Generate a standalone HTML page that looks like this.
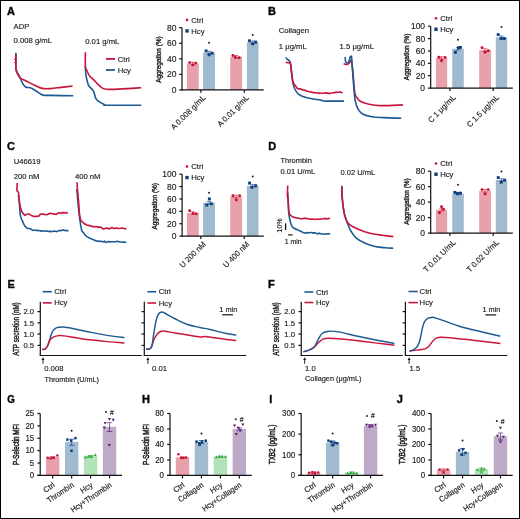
<!DOCTYPE html>
<html><head><meta charset="utf-8"><style>
html,body{margin:0;padding:0;background:#fff;}
svg{display:block;font-family:"Liberation Sans", sans-serif;will-change:transform;} text{stroke:#1a1a1a;stroke-width:0.15px;}
</style></head><body>
<svg width="520" height="519" viewBox="0 0 520 519">

<rect x="0.5" y="0.5" width="519" height="518" fill="none" stroke="#000" stroke-width="1"/>
<text font-size="11" font-weight="bold" transform="translate(7.0 14.8) scale(1 0.93)" style="stroke-width:0.45px" fill="#000">A</text>
<text font-size="7.7" transform="translate(13.6 28.6) scale(1 1.03)" fill="#1c1c1c">ADP</text>
<text font-size="7.7" transform="translate(13.6 43.3) scale(1 1.03)" fill="#1c1c1c">0.008 g/mL</text>
<text font-size="7.7" transform="translate(85.2 43.6) scale(1 1.03)" fill="#1c1c1c">0.01 g/mL</text>
<path d="M15.90,52.80 C15.90,54.00 15.87,57.22 15.90,60.00 C15.93,62.78 15.52,66.78 16.10,69.50 C16.68,72.22 18.28,73.93 19.40,76.30 C20.52,78.67 21.78,81.92 22.80,83.70 C23.82,85.48 24.27,86.33 25.50,87.00 C26.73,87.67 28.97,87.37 30.20,87.70 C31.43,88.03 31.55,88.22 32.90,89.00 C34.25,89.78 36.62,91.38 38.30,92.40 C39.98,93.42 40.98,94.60 43.00,95.10 C45.02,95.60 45.35,95.28 50.40,95.40 C55.45,95.52 69.48,95.73 73.30,95.80" fill="none" stroke="#1D5A93" stroke-width="1.6" stroke-linejoin="round" stroke-linecap="butt"/>
<path d="M15.90,54.10 C15.90,55.08 15.87,57.32 15.90,60.00 C15.93,62.68 15.73,67.72 16.10,70.20 C16.47,72.68 17.32,73.55 18.10,74.90 C18.88,76.25 19.45,77.28 20.80,78.30 C22.15,79.32 23.97,79.88 26.20,81.00 C28.43,82.12 31.52,83.77 34.20,85.00 C36.88,86.23 39.60,87.80 42.30,88.40 C45.00,89.00 47.27,88.77 50.40,88.60 C53.53,88.43 57.40,87.83 61.10,87.40 C64.80,86.97 70.68,86.23 72.60,86.00" fill="none" stroke="#C9153C" stroke-width="1.6" stroke-linejoin="round" stroke-linecap="butt"/>
<line x1="14.2" y1="59.4" x2="16.0" y2="59.4" stroke="#C9153C" stroke-width="1.2"/>
<line x1="14.2" y1="62.3" x2="16.0" y2="62.3" stroke="#C9153C" stroke-width="1.2"/>
<path d="M85.40,66.00 C85.43,67.00 85.38,69.83 85.60,72.00 C85.82,74.17 86.18,76.72 86.70,79.00 C87.22,81.28 87.57,83.68 88.70,85.70 C89.83,87.72 92.37,89.08 93.50,91.10 C94.63,93.12 94.72,96.12 95.50,97.80 C96.28,99.48 96.75,100.08 98.20,101.20 C99.65,102.32 102.75,103.83 104.20,104.50 C105.65,105.17 100.73,105.08 106.90,105.20 C113.07,105.32 135.48,105.20 141.20,105.20" fill="none" stroke="#1D5A93" stroke-width="1.6" stroke-linejoin="round" stroke-linecap="butt"/>
<path d="M85.40,52.30 C85.40,54.72 85.18,63.82 85.40,66.80 C85.62,69.78 86.03,68.73 86.70,70.20 C87.37,71.67 88.27,74.03 89.40,75.60 C90.53,77.17 91.70,77.80 93.50,79.60 C95.30,81.40 98.08,84.78 100.20,86.40 C102.32,88.02 101.72,88.93 106.20,89.30 C110.68,89.67 121.27,88.87 127.10,88.60 C132.93,88.33 138.85,87.85 141.20,87.70" fill="none" stroke="#C9153C" stroke-width="1.6" stroke-linejoin="round" stroke-linecap="butt"/>
<line x1="106" y1="58.9" x2="115" y2="58.9" stroke="#C9153C" stroke-width="1.8"/>
<line x1="106" y1="70.0" x2="115" y2="70.0" stroke="#1D5A93" stroke-width="1.8"/>
<text font-size="7.7" transform="translate(117.7 61.6) scale(1 1.03)" fill="#1c1c1c">Ctrl</text>
<text font-size="7.7" transform="translate(117.7 73.0) scale(1 1.03)" fill="#1c1c1c">Hcy</text>
<rect x="186.90" y="63.60" width="11.90" height="26.30" fill="#E8A1AC"/>
<line x1="192.85000000000002" y1="62.300000000000004" x2="192.85000000000002" y2="64.9" stroke="#C8102E" stroke-width="0.6"/>
<line x1="190.65000000000003" y1="62.300000000000004" x2="195.05" y2="62.300000000000004" stroke="#C8102E" stroke-width="0.6"/>
<line x1="190.65000000000003" y1="64.9" x2="195.05" y2="64.9" stroke="#C8102E" stroke-width="0.6"/>
<circle cx="189.65" cy="62.6" r="1.45" fill="#C8102E"/>
<circle cx="192.85" cy="64.9" r="1.45" fill="#C8102E"/>
<circle cx="195.85" cy="63.1" r="1.45" fill="#C8102E"/>
<rect x="203.10" y="52.60" width="11.90" height="37.30" fill="#A0BAD0"/>
<line x1="209.05" y1="51.300000000000004" x2="209.05" y2="53.9" stroke="#0E3F7F" stroke-width="0.6"/>
<line x1="206.85000000000002" y1="51.300000000000004" x2="211.25" y2="51.300000000000004" stroke="#0E3F7F" stroke-width="0.6"/>
<line x1="206.85000000000002" y1="53.9" x2="211.25" y2="53.9" stroke="#0E3F7F" stroke-width="0.6"/>
<rect x="204.60" y="49.45" width="2.9" height="2.9" fill="#0E3F7F"/>
<rect x="207.60" y="53.35" width="2.9" height="2.9" fill="#0E3F7F"/>
<rect x="210.60" y="51.65" width="2.9" height="2.9" fill="#0E3F7F"/>
<circle cx="209.05" cy="42.8" r="1.0" fill="#222"/>
<rect x="230.20" y="56.70" width="11.90" height="33.20" fill="#E8A1AC"/>
<line x1="236.14999999999998" y1="55.400000000000006" x2="236.14999999999998" y2="58.0" stroke="#C8102E" stroke-width="0.6"/>
<line x1="233.95" y1="55.400000000000006" x2="238.34999999999997" y2="55.400000000000006" stroke="#C8102E" stroke-width="0.6"/>
<line x1="233.95" y1="58.0" x2="238.34999999999997" y2="58.0" stroke="#C8102E" stroke-width="0.6"/>
<circle cx="232.95" cy="55.5" r="1.45" fill="#C8102E"/>
<circle cx="235.35" cy="57.4" r="1.45" fill="#C8102E"/>
<circle cx="239.15" cy="57.7" r="1.45" fill="#C8102E"/>
<rect x="246.90" y="42.20" width="11.60" height="47.70" fill="#A0BAD0"/>
<line x1="252.7" y1="40.900000000000006" x2="252.7" y2="43.5" stroke="#0E3F7F" stroke-width="0.6"/>
<line x1="250.5" y1="40.900000000000006" x2="254.89999999999998" y2="40.900000000000006" stroke="#0E3F7F" stroke-width="0.6"/>
<line x1="250.5" y1="43.5" x2="254.89999999999998" y2="43.5" stroke="#0E3F7F" stroke-width="0.6"/>
<rect x="248.05" y="39.35" width="2.9" height="2.9" fill="#0E3F7F"/>
<rect x="251.25" y="42.35" width="2.9" height="2.9" fill="#0E3F7F"/>
<rect x="254.25" y="40.65" width="2.9" height="2.9" fill="#0E3F7F"/>
<circle cx="252.7" cy="35.0" r="1.0" fill="#222"/>
<line x1="182.0" y1="27.7" x2="182.0" y2="90.4" stroke="#111" stroke-width="1.2"/>
<line x1="179.2" y1="89.9" x2="182.0" y2="89.9" stroke="#111" stroke-width="1.2"/>
<text font-size="8.5" text-anchor="end" transform="translate(176.4 92.95) scale(1 1.03)" fill="#1c1c1c">0</text>
<line x1="179.2" y1="74.35000000000001" x2="182.0" y2="74.35000000000001" stroke="#111" stroke-width="1.2"/>
<text font-size="8.5" text-anchor="end" transform="translate(176.4 77.4) scale(1 1.03)" fill="#1c1c1c">20</text>
<line x1="179.2" y1="58.800000000000004" x2="182.0" y2="58.800000000000004" stroke="#111" stroke-width="1.2"/>
<text font-size="8.5" text-anchor="end" transform="translate(176.4 61.85) scale(1 1.03)" fill="#1c1c1c">40</text>
<line x1="179.2" y1="43.25" x2="182.0" y2="43.25" stroke="#111" stroke-width="1.2"/>
<text font-size="8.5" text-anchor="end" transform="translate(176.4 46.3) scale(1 1.03)" fill="#1c1c1c">60</text>
<line x1="179.2" y1="27.700000000000003" x2="182.0" y2="27.700000000000003" stroke="#111" stroke-width="1.2"/>
<text font-size="8.5" text-anchor="end" transform="translate(176.4 30.75) scale(1 1.03)" fill="#1c1c1c">80</text>
<line x1="181.4" y1="89.9" x2="263.8" y2="89.9" stroke="#111" stroke-width="1.2"/>
<line x1="200.9" y1="89.9" x2="200.9" y2="92.7" stroke="#111" stroke-width="1.2"/>
<line x1="244.3" y1="89.9" x2="244.3" y2="92.7" stroke="#111" stroke-width="1.2"/>
<text font-size="7.7" text-anchor="middle" transform="translate(161.2 59.6) rotate(-90) scale(1 1.03)" textLength="46.5" lengthAdjust="spacingAndGlyphs" style="stroke-width:0.36px" fill="#1c1c1c">Aggregation (%)</text>
<text font-size="7.7" text-anchor="end" transform="translate(206.0 98.3) rotate(-45) scale(1 1.03)" fill="#1c1c1c">A 0.008 g/mL</text>
<text font-size="7.7" text-anchor="end" transform="translate(249.4 98.3) rotate(-45) scale(1 1.03)" fill="#1c1c1c">A 0.01 g/mL</text>
<circle cx="187.05" cy="19.9" r="1.30" fill="#C8102E"/>
<rect x="185.35" y="29.20" width="3.4" height="3.4" fill="#0E3F7F"/>
<text font-size="7.7" transform="translate(191.25 22.7) scale(1 1.03)" fill="#1c1c1c">Ctrl</text>
<text font-size="7.7" transform="translate(191.25 33.699999999999996) scale(1 1.03)" fill="#1c1c1c">Hcy</text>
<text font-size="11" font-weight="bold" transform="translate(268.0 14.6) scale(1 0.93)" style="stroke-width:0.45px" fill="#000">B</text>
<text font-size="7.7" transform="translate(278.8 33.2) scale(1 1.03)" fill="#1c1c1c">Collagen</text>
<text font-size="7.7" transform="translate(278.8 48.5) scale(1 1.03)" fill="#1c1c1c">1 μg/mL</text>
<text font-size="7.7" transform="translate(339.6 48.5) scale(1 1.03)" fill="#1c1c1c">1.5 μg/mL</text>
<path d="M285.70,57.40 C285.98,57.73 286.78,58.83 287.40,59.40 C288.02,59.97 288.88,60.12 289.40,60.80 C289.92,61.48 290.17,61.93 290.50,63.50 C290.83,65.07 291.02,67.07 291.40,70.20 C291.78,73.33 292.23,79.17 292.80,82.30 C293.37,85.43 293.80,86.98 294.80,89.00 C295.80,91.02 296.78,92.93 298.80,94.40 C300.82,95.87 303.30,96.85 306.90,97.80 C310.50,98.75 317.25,99.55 320.40,100.10 C323.55,100.65 321.88,100.93 325.80,101.10 C329.72,101.27 340.88,101.10 343.90,101.10" fill="none" stroke="#1D5A93" stroke-width="1.6" stroke-linejoin="round" stroke-linecap="butt"/>
<polyline points="285.70,62.80 286.35,62.46 287.29,62.50 288.35,62.65 289.35,62.59 290.10,62.90 290.36,63.54 290.56,64.36 290.71,65.32 290.84,65.75 290.94,66.43 291.02,67.69 291.10,68.77 291.18,70.02 291.28,70.99 291.40,71.68 291.51,72.29 291.61,73.64 291.71,74.12 291.81,74.67 291.91,75.31 292.01,76.32 292.12,77.25 292.23,78.01 292.36,78.83 292.49,79.68 292.64,80.52 292.80,81.33 293.10,82.21 293.42,82.61 293.76,83.71 294.13,84.12 294.54,84.91 295.00,85.30 295.50,86.09 296.07,86.62 296.60,87.28 297.18,88.45 297.91,88.47 298.89,88.89 300.20,88.88 300.76,89.06 301.38,89.47 302.04,89.61 302.75,89.90 303.50,90.10 304.28,90.07 305.09,90.52 305.93,90.55 306.78,91.27 307.64,91.21 308.51,91.55 309.39,91.67 310.26,92.03 311.12,91.95 311.97,92.34 312.79,92.35 313.60,92.72 314.45,92.82 315.30,92.81 316.16,92.64 317.03,92.94 317.90,93.05 318.77,93.39 319.64,93.13 320.51,93.23 321.38,93.28 322.23,93.26 323.08,93.24 323.91,93.23 324.73,93.05 325.54,92.86 326.33,92.89 327.10,93.12 328.04,93.41 328.97,93.39 329.90,93.35 330.82,93.21 331.73,93.05 332.62,92.80 333.48,92.74 334.31,92.87 335.12,92.41 335.88,92.06 336.60,92.42 337.28,92.20 337.90,92.24 339.31,92.23 340.44,91.86 341.35,92.53 342.06,92.78 342.60,92.20" fill="none" stroke="#C9153C" stroke-width="1.6" stroke-linejoin="round" stroke-linecap="butt"/>
<path d="M343.60,63.70 C344.20,63.83 346.23,64.67 347.20,64.50 C348.17,64.33 348.80,63.32 349.40,62.70 C350.00,62.08 350.43,60.98 350.80,60.80 C351.17,60.62 351.23,59.55 351.60,61.60 C351.97,63.65 352.52,68.28 353.00,73.10 C353.48,77.92 354.02,86.65 354.50,90.50 C354.98,94.35 354.95,94.40 355.90,96.20 C356.85,98.00 358.03,99.97 360.20,101.30 C362.37,102.63 365.52,103.48 368.90,104.20 C372.28,104.92 374.83,105.48 380.50,105.60 C386.17,105.72 399.17,105.02 402.90,104.90" fill="none" stroke="#C9153C" stroke-width="1.6" stroke-linejoin="round" stroke-linecap="butt"/>
<path d="M345.10,57.20 C345.22,58.05 345.33,61.38 345.80,62.30 C346.27,63.22 347.30,63.07 347.90,62.70 C348.50,62.33 348.98,61.13 349.40,60.10 C349.82,59.07 350.03,56.98 350.40,56.50 C350.77,56.02 351.28,55.40 351.60,57.20 C351.92,59.00 351.95,62.48 352.30,67.30 C352.65,72.12 353.22,80.55 353.70,86.10 C354.18,91.65 354.47,96.75 355.20,100.60 C355.93,104.45 356.78,106.92 358.10,109.20 C359.42,111.48 360.82,113.03 363.10,114.30 C365.38,115.57 368.42,116.25 371.80,116.80 C375.18,117.35 378.47,117.37 383.40,117.60 C388.33,117.83 398.40,118.10 401.40,118.20" fill="none" stroke="#1D5A93" stroke-width="1.6" stroke-linejoin="round" stroke-linecap="butt"/>
<rect x="435.90" y="58.00" width="11.30" height="30.10" fill="#E8A1AC"/>
<line x1="441.54999999999995" y1="56.7" x2="441.54999999999995" y2="59.3" stroke="#C8102E" stroke-width="0.6"/>
<line x1="439.34999999999997" y1="56.7" x2="443.74999999999994" y2="56.7" stroke="#C8102E" stroke-width="0.6"/>
<line x1="439.34999999999997" y1="59.3" x2="443.74999999999994" y2="59.3" stroke="#C8102E" stroke-width="0.6"/>
<circle cx="438.9" cy="57.2" r="1.45" fill="#C8102E"/>
<circle cx="441.55" cy="60.8" r="1.45" fill="#C8102E"/>
<circle cx="445.1" cy="57.4" r="1.45" fill="#C8102E"/>
<rect x="452.20" y="48.80" width="11.60" height="39.30" fill="#A0BAD0"/>
<line x1="458.0" y1="47.5" x2="458.0" y2="50.099999999999994" stroke="#0E3F7F" stroke-width="0.6"/>
<line x1="455.8" y1="47.5" x2="460.2" y2="47.5" stroke="#0E3F7F" stroke-width="0.6"/>
<line x1="455.8" y1="50.099999999999994" x2="460.2" y2="50.099999999999994" stroke="#0E3F7F" stroke-width="0.6"/>
<rect x="453.95" y="50.85" width="2.9" height="2.9" fill="#0E3F7F"/>
<rect x="457.05" y="46.25" width="2.9" height="2.9" fill="#0E3F7F"/>
<rect x="459.05" y="45.95" width="2.9" height="2.9" fill="#0E3F7F"/>
<circle cx="458.0" cy="39.7" r="1.0" fill="#222"/>
<rect x="479.20" y="50.00" width="11.80" height="38.10" fill="#E8A1AC"/>
<line x1="485.1" y1="48.7" x2="485.1" y2="51.3" stroke="#C8102E" stroke-width="0.6"/>
<line x1="482.90000000000003" y1="48.7" x2="487.3" y2="48.7" stroke="#C8102E" stroke-width="0.6"/>
<line x1="482.90000000000003" y1="51.3" x2="487.3" y2="51.3" stroke="#C8102E" stroke-width="0.6"/>
<circle cx="482.0" cy="47.7" r="1.45" fill="#C8102E"/>
<circle cx="485.1" cy="52.3" r="1.45" fill="#C8102E"/>
<circle cx="488.2" cy="50.8" r="1.45" fill="#C8102E"/>
<rect x="495.80" y="37.30" width="11.40" height="50.80" fill="#A0BAD0"/>
<line x1="501.5" y1="36.0" x2="501.5" y2="38.599999999999994" stroke="#0E3F7F" stroke-width="0.6"/>
<line x1="499.3" y1="36.0" x2="503.7" y2="36.0" stroke="#0E3F7F" stroke-width="0.6"/>
<line x1="499.3" y1="38.599999999999994" x2="503.7" y2="38.599999999999994" stroke="#0E3F7F" stroke-width="0.6"/>
<rect x="496.75" y="33.15" width="2.9" height="2.9" fill="#0E3F7F"/>
<rect x="499.75" y="37.05" width="2.9" height="2.9" fill="#0E3F7F"/>
<rect x="502.85" y="37.05" width="2.9" height="2.9" fill="#0E3F7F"/>
<circle cx="501.5" cy="26.9" r="1.0" fill="#222"/>
<line x1="430.7" y1="26.2" x2="430.7" y2="88.6" stroke="#111" stroke-width="1.2"/>
<line x1="427.9" y1="88.1" x2="430.7" y2="88.1" stroke="#111" stroke-width="1.2"/>
<text font-size="8.5" text-anchor="end" transform="translate(425.09999999999997 91.15) scale(1 1.03)" fill="#1c1c1c">0</text>
<line x1="427.9" y1="75.72" x2="430.7" y2="75.72" stroke="#111" stroke-width="1.2"/>
<text font-size="8.5" text-anchor="end" transform="translate(425.09999999999997 78.77) scale(1 1.03)" fill="#1c1c1c">20</text>
<line x1="427.9" y1="63.339999999999996" x2="430.7" y2="63.339999999999996" stroke="#111" stroke-width="1.2"/>
<text font-size="8.5" text-anchor="end" transform="translate(425.09999999999997 66.39) scale(1 1.03)" fill="#1c1c1c">40</text>
<line x1="427.9" y1="50.959999999999994" x2="430.7" y2="50.959999999999994" stroke="#111" stroke-width="1.2"/>
<text font-size="8.5" text-anchor="end" transform="translate(425.09999999999997 54.01) scale(1 1.03)" fill="#1c1c1c">60</text>
<line x1="427.9" y1="38.58" x2="430.7" y2="38.58" stroke="#111" stroke-width="1.2"/>
<text font-size="8.5" text-anchor="end" transform="translate(425.09999999999997 41.63) scale(1 1.03)" fill="#1c1c1c">80</text>
<line x1="427.9" y1="26.200000000000003" x2="430.7" y2="26.200000000000003" stroke="#111" stroke-width="1.2"/>
<text font-size="8.5" text-anchor="end" transform="translate(425.09999999999997 29.25) scale(1 1.03)" fill="#1c1c1c">100</text>
<line x1="430.09999999999997" y1="88.1" x2="512.8" y2="88.1" stroke="#111" stroke-width="1.2"/>
<line x1="449.9" y1="88.1" x2="449.9" y2="90.89999999999999" stroke="#111" stroke-width="1.2"/>
<line x1="493.2" y1="88.1" x2="493.2" y2="90.89999999999999" stroke="#111" stroke-width="1.2"/>
<text font-size="7.7" text-anchor="middle" transform="translate(408.8 56.9) rotate(-90) scale(1 1.03)" textLength="46.5" lengthAdjust="spacingAndGlyphs" style="stroke-width:0.36px" fill="#1c1c1c">Aggregation (%)</text>
<text font-size="7.7" text-anchor="end" transform="translate(456.3 98.0) rotate(-45) scale(1 1.03)" fill="#1c1c1c">C 1 μg/mL</text>
<text font-size="7.7" text-anchor="end" transform="translate(499.6 98.0) rotate(-45) scale(1 1.03)" fill="#1c1c1c">C 1.5 μg/mL</text>
<circle cx="436.0" cy="18.3" r="1.30" fill="#C8102E"/>
<rect x="434.30" y="27.55" width="3.4" height="3.4" fill="#0E3F7F"/>
<text font-size="7.7" transform="translate(440.2 21.1) scale(1 1.03)" fill="#1c1c1c">Ctrl</text>
<text font-size="7.7" transform="translate(440.2 32.05) scale(1 1.03)" fill="#1c1c1c">Hcy</text>
<text font-size="11" font-weight="bold" transform="translate(6.9 150.4) scale(1 0.93)" style="stroke-width:0.45px" fill="#000">C</text>
<text font-size="7.7" transform="translate(13.7 163.9) scale(1 1.03)" fill="#1c1c1c">U46619</text>
<text font-size="7.7" transform="translate(13.7 179.1) scale(1 1.03)" fill="#1c1c1c">200 nM</text>
<text font-size="7.7" transform="translate(74.9 178.9) scale(1 1.03)" fill="#1c1c1c">400 nM</text>
<polyline points="18.40,195.00 18.47,195.56 18.56,196.53 18.67,197.13 18.79,198.29 18.90,199.13 19.00,199.97 19.09,201.12 19.17,201.72 19.24,202.36 19.32,203.25 19.41,204.28 19.50,205.24 19.55,205.99 19.61,206.54 19.66,207.40 19.71,208.31 19.77,209.10 19.83,209.95 19.89,210.83 19.96,211.96 20.03,212.94 20.11,213.76 20.20,214.54 20.41,215.52 20.63,216.54 20.89,217.40 21.17,218.27 21.50,218.91 21.77,219.61 22.07,220.08 22.40,221.01 22.74,221.57 23.07,222.35 23.40,223.52 23.70,223.77 24.32,225.23 24.89,226.14 25.50,226.76 26.13,227.43 26.79,227.93 27.60,228.45 28.40,228.56 29.32,228.65 30.23,228.81 31.00,228.95 31.66,229.64 32.80,230.09 33.34,230.48 33.96,230.18 34.66,230.20 35.42,230.26 36.24,230.12 37.12,230.79 38.04,230.38 39.00,230.59 40.00,230.68 40.74,231.13 41.55,230.73 42.42,231.10 43.32,230.99 44.26,231.06 45.21,231.03 46.15,231.27 47.08,231.09 47.98,231.21 48.84,231.36 49.64,231.71 50.36,231.13 51.00,231.54 52.34,231.60 53.35,231.29 54.12,231.20 54.74,230.98 55.30,231.27 56.03,231.51 56.60,231.65 57.26,231.33 58.10,230.87 59.60,230.55 60.22,230.38 60.98,230.83 61.84,230.35 62.78,229.81 63.75,230.18 64.72,230.37 65.67,230.58 66.56,230.59 67.34,230.62 68.00,230.72 68.50,230.70" fill="none" stroke="#1D5A93" stroke-width="1.6" stroke-linejoin="round" stroke-linecap="butt"/>
<polyline points="17.20,183.00 17.17,183.59 17.13,184.54 17.08,185.30 17.02,186.50 16.97,187.81 16.93,188.77 16.91,189.96 16.90,190.04 17.01,190.96 17.30,191.01 17.87,191.31 18.50,192.78 18.60,193.55 18.69,194.41 18.78,195.33 18.86,196.80 18.94,197.62 19.03,197.79 19.11,198.91 19.20,199.68 19.30,200.52 19.40,201.87 19.53,202.63 19.67,202.95 19.80,204.24 19.94,205.13 20.10,205.74 20.27,206.52 20.47,207.39 20.70,208.37 21.00,209.23 21.35,210.23 21.72,211.66 22.12,211.95 22.52,212.41 22.92,213.08 23.30,214.03 24.19,214.51 25.07,215.36 25.90,214.90 26.87,214.24 28.00,213.98 28.70,213.96 29.53,214.22 30.40,214.87 31.23,215.44 31.90,215.63 32.78,215.92 33.70,216.59 34.44,216.56 35.37,216.33 36.36,216.62 37.28,216.10 38.00,216.12 38.95,216.07 39.50,215.60 39.71,214.73 40.60,214.34 41.22,214.13 42.05,214.03 43.01,213.89 44.04,214.56 45.07,214.37 46.03,214.80 46.87,214.79 47.50,214.56 48.01,214.30 48.80,213.80 49.36,213.70 50.06,213.20 50.87,213.38 51.77,213.72 52.73,213.77 53.71,213.95 54.68,214.20 55.62,213.99 56.49,214.36 57.26,213.48 57.90,213.41 59.08,212.56 59.76,213.02 60.36,212.95 61.30,213.38 62.02,213.03 62.88,212.38 63.83,213.07 64.81,212.67 65.77,212.52 66.64,212.80 67.37,213.19 67.90,213.20" fill="none" stroke="#C9153C" stroke-width="1.6" stroke-linejoin="round" stroke-linecap="butt"/>
<polyline points="76.80,189.00 76.84,189.26 76.88,189.70 76.93,190.52 76.99,190.85 77.05,191.72 77.11,192.25 77.18,193.44 77.25,194.35 77.32,195.43 77.40,196.15 77.48,197.12 77.56,197.97 77.64,198.80 77.72,199.81 77.80,200.56 77.88,201.52 77.97,202.58 78.05,203.43 78.12,204.18 78.20,205.30 78.29,206.05 78.38,206.77 78.48,207.70 78.58,208.51 78.67,209.39 78.77,210.28 78.87,211.52 78.97,212.27 79.07,213.09 79.17,213.99 79.27,215.04 79.37,215.62 79.46,216.22 79.55,217.34 79.64,217.65 79.72,218.29 79.80,219.06 79.95,220.59 80.09,221.32 80.21,221.86 80.33,222.96 80.44,223.67 80.56,224.38 80.67,225.20 80.80,225.94 80.97,226.90 81.14,227.69 81.31,228.72 81.49,229.61 81.69,230.15 81.90,230.61 82.38,231.62 82.91,232.26 83.50,232.71 83.96,233.31 84.45,234.19 84.99,234.80 85.60,235.37 86.28,236.02 87.01,236.58 87.83,237.15 88.80,237.41 89.44,238.13 90.14,238.42 90.88,238.56 91.66,239.06 92.45,239.35 93.23,239.59 94.00,239.98 94.89,240.51 95.80,240.65 96.71,240.99 97.60,241.34 98.47,241.13 99.30,241.17 100.28,241.48 101.25,241.31 102.17,241.47 102.97,241.80 103.60,241.92 104.30,241.63 104.60,241.01 104.49,241.85 105.70,242.21 106.21,242.23 106.83,242.19 107.54,241.82 108.32,241.66 109.17,241.59 110.07,242.01 111.01,241.78 111.96,241.73 112.92,241.69 113.87,241.78 114.80,241.80 115.69,241.78 116.53,241.54 117.30,241.16 118.25,241.49 119.22,241.72 120.19,242.03 121.14,242.03 122.07,242.02 122.96,242.21 123.80,242.07 124.56,242.12 125.25,242.19 125.83,242.45 126.30,242.60" fill="none" stroke="#1D5A93" stroke-width="1.6" stroke-linejoin="round" stroke-linecap="butt"/>
<polyline points="77.00,182.20 77.03,182.81 77.06,182.81 77.10,183.47 77.15,184.47 77.20,185.83 77.26,186.60 77.33,187.05 77.41,188.38 77.50,189.21 77.56,190.42 77.62,191.01 77.69,192.29 77.77,192.82 77.85,193.29 77.93,193.85 78.01,194.90 78.10,196.10 78.19,197.37 78.27,198.19 78.35,198.75 78.43,199.79 78.51,200.17 78.58,201.26 78.64,201.80 78.70,203.00 78.79,204.20 78.86,205.05 78.91,205.47 78.96,206.49 79.01,207.29 79.05,207.78 79.10,208.34 79.14,209.51 79.20,210.01 79.28,211.10 79.35,212.40 79.43,212.71 79.51,214.23 79.60,215.20 79.69,215.60 79.80,216.06 80.00,216.99 80.21,218.46 80.46,218.59 80.80,220.01 81.23,220.86 81.74,221.35 82.31,221.91 82.90,222.48 83.66,223.13 84.49,223.97 85.60,224.15 86.33,224.81 87.17,225.25 88.09,225.28 89.04,225.66 89.99,225.64 90.90,225.90 91.78,226.22 92.67,226.84 93.55,226.64 94.43,226.57 95.32,226.64 96.20,226.68 97.08,226.52 97.97,227.34 98.86,227.12 99.74,227.08 100.62,227.09 101.50,227.55 102.33,228.49 103.12,229.03 103.90,228.80 104.73,228.56 105.64,228.38 106.70,228.05 107.40,228.38 108.15,228.33 108.93,228.94 109.74,228.59 110.58,228.22 111.45,227.82 112.35,227.65 113.28,228.24 114.23,228.47 115.20,228.17 116.00,227.91 116.88,228.30 117.81,228.31 118.79,228.48 119.79,228.50 120.79,228.29 121.77,227.91 122.72,228.25 123.62,228.41 124.44,228.51 125.18,228.77 125.80,228.90 126.30,228.50" fill="none" stroke="#C9153C" stroke-width="1.6" stroke-linejoin="round" stroke-linecap="butt"/>
<rect x="186.90" y="213.10" width="11.90" height="23.00" fill="#E8A1AC"/>
<line x1="192.85000000000002" y1="211.79999999999998" x2="192.85000000000002" y2="214.4" stroke="#C8102E" stroke-width="0.6"/>
<line x1="190.65000000000003" y1="211.79999999999998" x2="195.05" y2="211.79999999999998" stroke="#C8102E" stroke-width="0.6"/>
<line x1="190.65000000000003" y1="214.4" x2="195.05" y2="214.4" stroke="#C8102E" stroke-width="0.6"/>
<circle cx="189.7" cy="210.8" r="1.45" fill="#C8102E"/>
<circle cx="193.1" cy="213.4" r="1.45" fill="#C8102E"/>
<circle cx="196.2" cy="213.8" r="1.45" fill="#C8102E"/>
<rect x="203.10" y="202.70" width="11.90" height="33.40" fill="#A0BAD0"/>
<line x1="209.05" y1="201.39999999999998" x2="209.05" y2="204.0" stroke="#0E3F7F" stroke-width="0.6"/>
<line x1="206.85000000000002" y1="201.39999999999998" x2="211.25" y2="201.39999999999998" stroke="#0E3F7F" stroke-width="0.6"/>
<line x1="206.85000000000002" y1="204.0" x2="211.25" y2="204.0" stroke="#0E3F7F" stroke-width="0.6"/>
<rect x="207.90" y="197.45" width="2.9" height="2.9" fill="#0E3F7F"/>
<rect x="205.30" y="203.65" width="2.9" height="2.9" fill="#0E3F7F"/>
<rect x="209.90" y="202.35" width="2.9" height="2.9" fill="#0E3F7F"/>
<circle cx="209.05" cy="192.8" r="1.0" fill="#222"/>
<rect x="230.20" y="196.50" width="11.90" height="39.60" fill="#E8A1AC"/>
<line x1="236.14999999999998" y1="195.2" x2="236.14999999999998" y2="197.8" stroke="#C8102E" stroke-width="0.6"/>
<line x1="233.95" y1="195.2" x2="238.34999999999997" y2="195.2" stroke="#C8102E" stroke-width="0.6"/>
<line x1="233.95" y1="197.8" x2="238.34999999999997" y2="197.8" stroke="#C8102E" stroke-width="0.6"/>
<circle cx="232.9" cy="195.8" r="1.45" fill="#C8102E"/>
<circle cx="236.3" cy="200.0" r="1.45" fill="#C8102E"/>
<circle cx="239.7" cy="195.8" r="1.45" fill="#C8102E"/>
<rect x="246.90" y="185.90" width="11.60" height="50.20" fill="#A0BAD0"/>
<line x1="252.7" y1="184.6" x2="252.7" y2="187.20000000000002" stroke="#0E3F7F" stroke-width="0.6"/>
<line x1="250.5" y1="184.6" x2="254.89999999999998" y2="184.6" stroke="#0E3F7F" stroke-width="0.6"/>
<line x1="250.5" y1="187.20000000000002" x2="254.89999999999998" y2="187.20000000000002" stroke="#0E3F7F" stroke-width="0.6"/>
<rect x="248.10" y="181.65" width="2.9" height="2.9" fill="#0E3F7F"/>
<rect x="250.40" y="185.75" width="2.9" height="2.9" fill="#0E3F7F"/>
<rect x="254.20" y="184.25" width="2.9" height="2.9" fill="#0E3F7F"/>
<circle cx="252.7" cy="176.5" r="1.0" fill="#222"/>
<line x1="182.1" y1="174.2" x2="182.1" y2="236.6" stroke="#111" stroke-width="1.2"/>
<line x1="179.29999999999998" y1="236.1" x2="182.1" y2="236.1" stroke="#111" stroke-width="1.2"/>
<text font-size="8.5" text-anchor="end" transform="translate(176.5 239.15) scale(1 1.03)" fill="#1c1c1c">0</text>
<line x1="179.29999999999998" y1="223.72" x2="182.1" y2="223.72" stroke="#111" stroke-width="1.2"/>
<text font-size="8.5" text-anchor="end" transform="translate(176.5 226.77) scale(1 1.03)" fill="#1c1c1c">20</text>
<line x1="179.29999999999998" y1="211.34" x2="182.1" y2="211.34" stroke="#111" stroke-width="1.2"/>
<text font-size="8.5" text-anchor="end" transform="translate(176.5 214.39) scale(1 1.03)" fill="#1c1c1c">40</text>
<line x1="179.29999999999998" y1="198.95999999999998" x2="182.1" y2="198.95999999999998" stroke="#111" stroke-width="1.2"/>
<text font-size="8.5" text-anchor="end" transform="translate(176.5 202.01) scale(1 1.03)" fill="#1c1c1c">60</text>
<line x1="179.29999999999998" y1="186.57999999999998" x2="182.1" y2="186.57999999999998" stroke="#111" stroke-width="1.2"/>
<text font-size="8.5" text-anchor="end" transform="translate(176.5 189.63) scale(1 1.03)" fill="#1c1c1c">80</text>
<line x1="179.29999999999998" y1="174.2" x2="182.1" y2="174.2" stroke="#111" stroke-width="1.2"/>
<text font-size="8.5" text-anchor="end" transform="translate(176.5 177.25) scale(1 1.03)" fill="#1c1c1c">100</text>
<line x1="181.5" y1="236.1" x2="263.8" y2="236.1" stroke="#111" stroke-width="1.2"/>
<line x1="200.8" y1="236.1" x2="200.8" y2="238.9" stroke="#111" stroke-width="1.2"/>
<line x1="244.2" y1="236.1" x2="244.2" y2="238.9" stroke="#111" stroke-width="1.2"/>
<text font-size="7.7" text-anchor="middle" transform="translate(156.6 206.3) rotate(-90) scale(1 1.03)" textLength="46.5" lengthAdjust="spacingAndGlyphs" style="stroke-width:0.36px" fill="#1c1c1c">Aggregation (%)</text>
<text font-size="7.7" text-anchor="end" transform="translate(206.4 244.7) rotate(-45) scale(1 1.03)" fill="#1c1c1c">U 200 nM</text>
<text font-size="7.7" text-anchor="end" transform="translate(249.8 244.7) rotate(-45) scale(1 1.03)" fill="#1c1c1c">U 400 nM</text>
<circle cx="187.0" cy="166.5" r="1.30" fill="#C8102E"/>
<rect x="185.30" y="175.90" width="3.4" height="3.4" fill="#0E3F7F"/>
<text font-size="7.7" transform="translate(191.2 169.3) scale(1 1.03)" fill="#1c1c1c">Ctrl</text>
<text font-size="7.7" transform="translate(191.2 180.4) scale(1 1.03)" fill="#1c1c1c">Hcy</text>
<text font-size="11" font-weight="bold" transform="translate(268.3 150.3) scale(1 0.93)" style="stroke-width:0.45px" fill="#000">D</text>
<text font-size="7.7" transform="translate(280.5 162.7) scale(1 1.03)" textLength="31.3" lengthAdjust="spacingAndGlyphs" fill="#1c1c1c">Thrombin</text>
<text font-size="7.7" transform="translate(280.5 174.4) scale(1 1.03)" textLength="34.6" lengthAdjust="spacingAndGlyphs" fill="#1c1c1c">0.01 U/mL</text>
<text font-size="7.7" transform="translate(340.4 174.5) scale(1 1.03)" textLength="34.8" lengthAdjust="spacingAndGlyphs" fill="#1c1c1c">0.02 U/mL</text>
<polyline points="287.80,192.60 287.82,193.01 287.84,193.76 287.87,194.34 287.90,195.03 287.93,195.68 287.96,196.65 288.00,197.96 288.04,198.94 288.08,200.07 288.11,200.92 288.15,201.85 288.19,202.71 288.23,203.10 288.27,204.30 288.30,205.15 288.35,206.23 288.39,206.71 288.43,207.39 288.48,208.39 288.52,209.42 288.56,210.53 288.61,211.39 288.67,212.33 288.73,212.87 288.80,213.72 288.94,214.89 289.09,215.63 289.26,216.97 289.44,217.72 289.62,218.65 289.80,219.08 289.97,219.69 290.12,220.52 290.28,221.39 290.46,222.40 290.66,223.18 290.90,223.75 291.21,224.36 291.54,225.15 291.92,226.33 292.39,226.73 293.00,227.50 293.64,228.11 294.38,228.14 295.20,228.75 296.06,229.56 296.94,229.33 297.80,229.83 298.53,230.29 299.28,230.52 300.04,231.14 300.80,231.47 301.57,231.43 302.34,232.10 303.10,232.48 303.96,232.81 304.79,233.12 305.62,233.01 306.48,232.90 307.40,232.51 308.40,232.84 309.14,232.72 309.94,232.73 310.79,232.55 311.66,232.56 312.54,232.70 313.41,233.26 314.26,232.73 315.06,232.65 315.80,233.07 316.76,233.68 317.59,233.87 318.35,233.44 319.14,233.14 320.03,233.75 321.10,233.76 321.81,233.63 322.63,234.06 323.53,234.26 324.48,234.08 325.45,233.95 326.41,233.88 327.33,234.09 328.19,233.90 328.96,233.75 329.61,233.65 330.10,233.30" fill="none" stroke="#1D5A93" stroke-width="1.6" stroke-linejoin="round" stroke-linecap="butt"/>
<polyline points="287.70,185.60 287.68,186.17 287.66,187.22 287.63,188.02 287.60,188.95 287.57,189.87 287.54,190.82 287.51,191.83 287.48,192.68 287.45,193.38 287.42,194.00 287.40,194.45 287.29,195.27 287.30,195.36 287.43,196.25 287.62,197.05 287.83,197.99 288.00,199.11 288.08,199.79 288.16,200.29 288.22,201.45 288.28,202.28 288.34,203.28 288.40,204.20 288.45,205.53 288.50,206.42 288.54,207.25 288.59,207.91 288.64,209.00 288.71,209.68 288.80,210.67 288.97,211.53 289.16,212.60 289.42,213.66 289.80,214.25 290.32,214.97 290.95,215.53 291.68,216.14 292.50,216.44 293.18,216.91 293.87,217.54 294.64,217.46 295.56,217.64 296.70,218.03 297.38,218.03 298.14,217.94 298.97,218.35 299.84,218.50 300.75,218.61 301.67,218.68 302.60,218.67 303.50,218.45 304.38,218.12 305.20,218.43 306.06,218.39 306.90,218.60 307.71,218.80 308.50,218.70 309.30,218.83 310.09,219.26 310.90,219.36 311.74,219.06 312.60,219.14 313.40,219.21 314.22,219.33 315.05,219.41 315.90,219.30 316.75,219.21 317.61,219.32 318.48,218.99 319.35,219.21 320.22,219.18 321.10,219.01 321.93,218.90 322.83,218.94 323.76,218.67 324.71,218.37 325.66,218.62 326.59,218.88 327.47,218.74 328.28,218.67 329.00,218.61 329.62,218.41 330.10,218.50" fill="none" stroke="#C9153C" stroke-width="1.6" stroke-linejoin="round" stroke-linecap="butt"/>
<path d="M341.80,185.80 C341.92,188.12 342.15,195.37 342.50,199.70 C342.85,204.03 343.23,208.33 343.90,211.80 C344.57,215.27 345.35,217.32 346.50,220.50 C347.65,223.68 349.22,228.02 350.80,230.90 C352.38,233.78 353.68,235.78 356.00,237.80 C358.32,239.82 361.52,241.55 364.70,243.00 C367.88,244.45 371.63,245.70 375.10,246.50 C378.57,247.30 382.47,247.52 385.50,247.80 C388.53,248.08 392.00,248.13 393.30,248.20" fill="none" stroke="#1D5A93" stroke-width="1.6" stroke-linejoin="round" stroke-linecap="butt"/>
<path d="M341.80,186.70 C341.80,188.00 341.60,191.47 341.80,194.50 C342.00,197.53 342.52,201.43 343.00,204.90 C343.48,208.37 343.98,212.42 344.70,215.30 C345.42,218.18 346.00,220.33 347.30,222.20 C348.60,224.07 349.60,224.92 352.50,226.50 C355.40,228.08 360.93,230.40 364.70,231.70 C368.47,233.00 372.22,233.72 375.10,234.30 C377.98,234.88 378.97,234.82 382.00,235.20 C385.03,235.58 391.42,236.37 393.30,236.60" fill="none" stroke="#C9153C" stroke-width="1.6" stroke-linejoin="round" stroke-linecap="butt"/>
<line x1="285.6" y1="223.3" x2="285.6" y2="230.1" stroke="#111" stroke-width="1.3"/>
<text font-size="7.4" text-anchor="middle" transform="translate(282.0 225.6) rotate(-90) scale(1 1.03)" textLength="14.2" lengthAdjust="spacingAndGlyphs" fill="#1c1c1c">10%</text>
<line x1="288.2" y1="234.9" x2="292.6" y2="234.9" stroke="#111" stroke-width="1.2"/>
<text font-size="6.9" transform="translate(284.8 243.5) scale(1 1.03)" fill="#1c1c1c">1 min</text>
<rect x="435.90" y="209.70" width="11.30" height="23.40" fill="#E8A1AC"/>
<line x1="441.54999999999995" y1="208.39999999999998" x2="441.54999999999995" y2="211.0" stroke="#C8102E" stroke-width="0.6"/>
<line x1="439.34999999999997" y1="208.39999999999998" x2="443.74999999999994" y2="208.39999999999998" stroke="#C8102E" stroke-width="0.6"/>
<line x1="439.34999999999997" y1="211.0" x2="443.74999999999994" y2="211.0" stroke="#C8102E" stroke-width="0.6"/>
<circle cx="441.55" cy="206.8" r="1.45" fill="#C8102E"/>
<circle cx="443.55" cy="209.3" r="1.45" fill="#C8102E"/>
<circle cx="439.4" cy="212.7" r="1.45" fill="#C8102E"/>
<rect x="452.20" y="193.60" width="11.60" height="39.50" fill="#A0BAD0"/>
<line x1="458.0" y1="192.29999999999998" x2="458.0" y2="194.9" stroke="#0E3F7F" stroke-width="0.6"/>
<line x1="455.8" y1="192.29999999999998" x2="460.2" y2="192.29999999999998" stroke="#0E3F7F" stroke-width="0.6"/>
<line x1="455.8" y1="194.9" x2="460.2" y2="194.9" stroke="#0E3F7F" stroke-width="0.6"/>
<rect x="453.35" y="190.95" width="2.9" height="2.9" fill="#0E3F7F"/>
<rect x="455.95" y="192.05" width="2.9" height="2.9" fill="#0E3F7F"/>
<rect x="459.05" y="191.75" width="2.9" height="2.9" fill="#0E3F7F"/>
<circle cx="458.0" cy="184.7" r="1.0" fill="#222"/>
<rect x="479.20" y="190.80" width="11.80" height="42.30" fill="#E8A1AC"/>
<line x1="485.1" y1="189.5" x2="485.1" y2="192.10000000000002" stroke="#C8102E" stroke-width="0.6"/>
<line x1="482.90000000000003" y1="189.5" x2="487.3" y2="189.5" stroke="#C8102E" stroke-width="0.6"/>
<line x1="482.90000000000003" y1="192.10000000000002" x2="487.3" y2="192.10000000000002" stroke="#C8102E" stroke-width="0.6"/>
<circle cx="482.0" cy="189.6" r="1.45" fill="#C8102E"/>
<circle cx="485.1" cy="193.9" r="1.45" fill="#C8102E"/>
<circle cx="488.2" cy="189.6" r="1.45" fill="#C8102E"/>
<rect x="495.80" y="180.00" width="11.40" height="53.10" fill="#A0BAD0"/>
<line x1="501.5" y1="178.7" x2="501.5" y2="181.3" stroke="#0E3F7F" stroke-width="0.6"/>
<line x1="499.3" y1="178.7" x2="503.7" y2="178.7" stroke="#0E3F7F" stroke-width="0.6"/>
<line x1="499.3" y1="181.3" x2="503.7" y2="181.3" stroke="#0E3F7F" stroke-width="0.6"/>
<rect x="496.75" y="176.15" width="2.9" height="2.9" fill="#0E3F7F"/>
<rect x="499.75" y="180.75" width="2.9" height="2.9" fill="#0E3F7F"/>
<rect x="503.15" y="178.65" width="2.9" height="2.9" fill="#0E3F7F"/>
<circle cx="501.5" cy="171.5" r="1.0" fill="#222"/>
<line x1="430.7" y1="171.2" x2="430.7" y2="233.6" stroke="#111" stroke-width="1.2"/>
<line x1="427.9" y1="233.1" x2="430.7" y2="233.1" stroke="#111" stroke-width="1.2"/>
<text font-size="8.5" text-anchor="end" transform="translate(425.09999999999997 236.15) scale(1 1.03)" fill="#1c1c1c">0</text>
<line x1="427.9" y1="217.625" x2="430.7" y2="217.625" stroke="#111" stroke-width="1.2"/>
<text font-size="8.5" text-anchor="end" transform="translate(425.09999999999997 220.68) scale(1 1.03)" fill="#1c1c1c">20</text>
<line x1="427.9" y1="202.14999999999998" x2="430.7" y2="202.14999999999998" stroke="#111" stroke-width="1.2"/>
<text font-size="8.5" text-anchor="end" transform="translate(425.09999999999997 205.2) scale(1 1.03)" fill="#1c1c1c">40</text>
<line x1="427.9" y1="186.67499999999998" x2="430.7" y2="186.67499999999998" stroke="#111" stroke-width="1.2"/>
<text font-size="8.5" text-anchor="end" transform="translate(425.09999999999997 189.72) scale(1 1.03)" fill="#1c1c1c">60</text>
<line x1="427.9" y1="171.2" x2="430.7" y2="171.2" stroke="#111" stroke-width="1.2"/>
<text font-size="8.5" text-anchor="end" transform="translate(425.09999999999997 174.25) scale(1 1.03)" fill="#1c1c1c">80</text>
<line x1="430.09999999999997" y1="233.1" x2="512.8" y2="233.1" stroke="#111" stroke-width="1.2"/>
<line x1="449.9" y1="233.1" x2="449.9" y2="235.9" stroke="#111" stroke-width="1.2"/>
<line x1="493.2" y1="233.1" x2="493.2" y2="235.9" stroke="#111" stroke-width="1.2"/>
<text font-size="7.7" text-anchor="middle" transform="translate(409.0 201.6) rotate(-90) scale(1 1.03)" textLength="46.5" lengthAdjust="spacingAndGlyphs" style="stroke-width:0.36px" fill="#1c1c1c">Aggregation (%)</text>
<text font-size="7.7" text-anchor="end" transform="translate(456.3 243.0) rotate(-45) scale(1 1.03)" fill="#1c1c1c">T 0.01 U/mL</text>
<text font-size="7.7" text-anchor="end" transform="translate(499.6 243.0) rotate(-45) scale(1 1.03)" fill="#1c1c1c">T 0.02 U/mL</text>
<circle cx="436.0" cy="163.5" r="1.30" fill="#C8102E"/>
<rect x="434.30" y="172.55" width="3.4" height="3.4" fill="#0E3F7F"/>
<text font-size="7.7" transform="translate(440.2 166.3) scale(1 1.03)" fill="#1c1c1c">Ctrl</text>
<text font-size="7.7" transform="translate(440.2 177.05) scale(1 1.03)" fill="#1c1c1c">Hcy</text>
<text font-size="11" font-weight="bold" transform="translate(7.5 287.7) scale(1 0.93)" style="stroke-width:0.45px" fill="#000">E</text>
<line x1="40.3" y1="301.7" x2="40.3" y2="356.0" stroke="#111" stroke-width="1.2"/>
<line x1="39.8" y1="355.5" x2="141.7" y2="355.5" stroke="#111" stroke-width="1.2"/>
<line x1="37.5" y1="311.6" x2="40.3" y2="311.6" stroke="#111" stroke-width="1.2"/>
<text font-size="7.7" text-anchor="end" transform="translate(34.099999999999994 314.3) scale(1 1.03)" fill="#1c1c1c">2.0</text>
<line x1="37.5" y1="322.9" x2="40.3" y2="322.9" stroke="#111" stroke-width="1.2"/>
<text font-size="7.7" text-anchor="end" transform="translate(34.099999999999994 325.6) scale(1 1.03)" fill="#1c1c1c">1.5</text>
<line x1="37.5" y1="334.0" x2="40.3" y2="334.0" stroke="#111" stroke-width="1.2"/>
<text font-size="7.7" text-anchor="end" transform="translate(34.099999999999994 336.7) scale(1 1.03)" fill="#1c1c1c">1.0</text>
<line x1="37.5" y1="345.4" x2="40.3" y2="345.4" stroke="#111" stroke-width="1.2"/>
<text font-size="7.7" text-anchor="end" transform="translate(34.099999999999994 348.1) scale(1 1.03)" fill="#1c1c1c">0.5</text>
<text font-size="7.9" text-anchor="middle" transform="translate(18.5 329.0) rotate(-90) scale(1 1.03)" textLength="53.4" lengthAdjust="spacingAndGlyphs" style="stroke-width:0.38px" fill="#1c1c1c">ATP secretion (nM)</text>
<line x1="144.3" y1="301.7" x2="144.3" y2="356.0" stroke="#111" stroke-width="1.2"/>
<line x1="143.8" y1="355.5" x2="246.3" y2="355.5" stroke="#111" stroke-width="1.2"/>
<line x1="141.5" y1="311.6" x2="144.3" y2="311.6" stroke="#111" stroke-width="1.2"/>
<line x1="141.5" y1="322.9" x2="144.3" y2="322.9" stroke="#111" stroke-width="1.2"/>
<line x1="141.5" y1="334.0" x2="144.3" y2="334.0" stroke="#111" stroke-width="1.2"/>
<line x1="141.5" y1="345.4" x2="144.3" y2="345.4" stroke="#111" stroke-width="1.2"/>
<line x1="42.7" y1="291.7" x2="51.800000000000004" y2="291.7" stroke="#1D5A93" stroke-width="1.6"/>
<line x1="42.7" y1="302.9" x2="51.800000000000004" y2="302.9" stroke="#C9153C" stroke-width="1.6"/>
<text font-size="7.7" transform="translate(54.2 294.2) scale(1 1.03)" fill="#1c1c1c">Ctrl</text>
<text font-size="7.7" transform="translate(54.2 305.4) scale(1 1.03)" fill="#1c1c1c">Hcy</text>
<path d="M42.30,349.40 C42.73,349.35 44.03,349.67 44.90,349.10 C45.77,348.53 46.63,347.82 47.50,346.00 C48.37,344.18 49.23,340.67 50.10,338.20 C50.97,335.73 51.68,332.93 52.70,331.20 C53.72,329.47 54.62,328.52 56.20,327.80 C57.78,327.08 60.05,326.90 62.20,326.90 C64.35,326.90 64.48,326.93 69.10,327.80 C73.72,328.67 82.97,330.75 89.90,332.10 C96.83,333.45 104.93,334.98 110.70,335.90 C116.47,336.82 122.20,337.32 124.50,337.60" fill="none" stroke="#1D5A93" stroke-width="1.45" stroke-linejoin="round" stroke-linecap="butt"/>
<path d="M42.30,349.40 C42.73,349.35 44.03,349.67 44.90,349.10 C45.77,348.53 46.63,347.53 47.50,346.00 C48.37,344.47 49.08,341.43 50.10,339.90 C51.12,338.37 52.15,337.52 53.60,336.80 C55.05,336.08 57.07,335.75 58.80,335.60 C60.53,335.45 60.25,335.38 64.00,335.90 C67.75,336.42 74.10,337.75 81.30,338.70 C88.50,339.65 100.00,340.88 107.20,341.60 C114.40,342.32 121.62,342.77 124.50,343.00" fill="none" stroke="#C9153C" stroke-width="1.45" stroke-linejoin="round" stroke-linecap="butt"/>
<line x1="43.0" y1="359.4" x2="43.0" y2="363.8" stroke="#222" stroke-width="1.0"/>
<polygon points="41.50,360.10 44.50,360.10 43.00,357.20" fill="#111"/>
<text font-size="7.7" transform="translate(44.2 371.2) scale(1 1.03)" fill="#1c1c1c">0.008</text>
<text font-size="7.7" transform="translate(44.5 382.0) scale(1 1.03)" textLength="54.5" lengthAdjust="spacingAndGlyphs" fill="#1c1c1c">Thrombin (U/mL)</text>
<line x1="147.5" y1="291.75" x2="156.1" y2="291.75" stroke="#1D5A93" stroke-width="1.6"/>
<line x1="147.5" y1="303.0" x2="156.1" y2="303.0" stroke="#C9153C" stroke-width="1.6"/>
<text font-size="7.7" transform="translate(158.75 294.25) scale(1 1.03)" fill="#1c1c1c">Ctrl</text>
<text font-size="7.7" transform="translate(158.75 305.5) scale(1 1.03)" fill="#1c1c1c">Hcy</text>
<text font-size="7.4" transform="translate(219.25 312.1) scale(1 1.03)" fill="#1c1c1c">1 min</text>
<line x1="222.1" y1="314.8" x2="232.9" y2="314.8" stroke="#111" stroke-width="1.2"/>
<path d="M146.25,349.25 C146.88,349.17 149.04,349.38 150.00,348.75 C150.96,348.12 151.38,346.96 152.00,345.50 C152.62,344.04 152.83,341.96 153.75,340.00 C154.67,338.04 156.25,335.21 157.50,333.75 C158.75,332.29 160.00,331.67 161.25,331.25 C162.50,330.83 162.71,330.96 165.00,331.25 C167.29,331.54 171.25,332.38 175.00,333.00 C178.75,333.62 183.33,334.33 187.50,335.00 C191.67,335.67 197.08,336.75 200.00,337.00 C202.92,337.25 202.92,336.42 205.00,336.50 C207.08,336.58 209.17,337.04 212.50,337.50 C215.83,337.96 221.04,338.75 225.00,339.25 C228.96,339.75 234.38,340.29 236.25,340.50" fill="none" stroke="#C9153C" stroke-width="1.45" stroke-linejoin="round" stroke-linecap="butt"/>
<path d="M146.25,349.25 C146.88,349.17 149.04,349.38 150.00,348.75 C150.96,348.12 151.38,348.00 152.00,345.50 C152.62,343.00 153.04,338.00 153.75,333.75 C154.46,329.50 155.42,323.33 156.25,320.00 C157.08,316.67 157.79,315.08 158.75,313.75 C159.71,312.42 160.96,312.08 162.00,312.00 C163.04,311.92 162.83,312.12 165.00,313.25 C167.17,314.38 171.25,316.88 175.00,318.75 C178.75,320.62 183.33,323.04 187.50,324.50 C191.67,325.96 196.25,326.67 200.00,327.50 C203.75,328.33 205.83,328.54 210.00,329.50 C214.17,330.46 220.62,332.33 225.00,333.25 C229.38,334.17 234.38,334.71 236.25,335.00" fill="none" stroke="#1D5A93" stroke-width="1.45" stroke-linejoin="round" stroke-linecap="butt"/>
<line x1="147.9" y1="359.4" x2="147.9" y2="363.8" stroke="#222" stroke-width="1.0"/>
<polygon points="146.40,360.10 149.40,360.10 147.90,357.20" fill="#111"/>
<text font-size="7.7" transform="translate(152.0 371.3) scale(1 1.03)" fill="#1c1c1c">0.01</text>
<text font-size="11" font-weight="bold" transform="translate(268.0 287.7) scale(1 0.93)" style="stroke-width:0.45px" fill="#000">F</text>
<line x1="301.25" y1="301.7" x2="301.25" y2="356.0" stroke="#111" stroke-width="1.2"/>
<line x1="300.75" y1="355.5" x2="402.7" y2="355.5" stroke="#111" stroke-width="1.2"/>
<line x1="298.45" y1="311.6" x2="301.25" y2="311.6" stroke="#111" stroke-width="1.2"/>
<text font-size="7.7" text-anchor="end" transform="translate(295.05 314.3) scale(1 1.03)" fill="#1c1c1c">2.0</text>
<line x1="298.45" y1="322.9" x2="301.25" y2="322.9" stroke="#111" stroke-width="1.2"/>
<text font-size="7.7" text-anchor="end" transform="translate(295.05 325.6) scale(1 1.03)" fill="#1c1c1c">1.5</text>
<line x1="298.45" y1="334.0" x2="301.25" y2="334.0" stroke="#111" stroke-width="1.2"/>
<text font-size="7.7" text-anchor="end" transform="translate(295.05 336.7) scale(1 1.03)" fill="#1c1c1c">1.0</text>
<line x1="298.45" y1="345.4" x2="301.25" y2="345.4" stroke="#111" stroke-width="1.2"/>
<text font-size="7.7" text-anchor="end" transform="translate(295.05 348.1) scale(1 1.03)" fill="#1c1c1c">0.5</text>
<text font-size="7.9" text-anchor="middle" transform="translate(279.45 329.0) rotate(-90) scale(1 1.03)" textLength="53.4" lengthAdjust="spacingAndGlyphs" style="stroke-width:0.38px" fill="#1c1c1c">ATP secretion (nM)</text>
<line x1="405.4" y1="301.7" x2="405.4" y2="356.0" stroke="#111" stroke-width="1.2"/>
<line x1="404.9" y1="355.5" x2="507.3" y2="355.5" stroke="#111" stroke-width="1.2"/>
<line x1="402.59999999999997" y1="311.6" x2="405.4" y2="311.6" stroke="#111" stroke-width="1.2"/>
<line x1="402.59999999999997" y1="322.9" x2="405.4" y2="322.9" stroke="#111" stroke-width="1.2"/>
<line x1="402.59999999999997" y1="334.0" x2="405.4" y2="334.0" stroke="#111" stroke-width="1.2"/>
<line x1="402.59999999999997" y1="345.4" x2="405.4" y2="345.4" stroke="#111" stroke-width="1.2"/>
<line x1="304.4" y1="292.0" x2="313.40000000000003" y2="292.0" stroke="#1D5A93" stroke-width="1.6"/>
<line x1="304.4" y1="302.5" x2="313.40000000000003" y2="302.5" stroke="#C9153C" stroke-width="1.6"/>
<text font-size="7.7" transform="translate(316.0 294.5) scale(1 1.03)" fill="#1c1c1c">Ctrl</text>
<text font-size="7.7" transform="translate(316.0 305.0) scale(1 1.03)" fill="#1c1c1c">Hcy</text>
<path d="M303.50,351.70 C304.52,351.38 307.78,350.60 309.60,349.80 C311.42,349.00 312.95,348.08 314.40,346.90 C315.85,345.72 316.85,343.98 318.30,342.70 C319.75,341.42 321.35,339.93 323.10,339.20 C324.85,338.47 326.23,338.37 328.80,338.30 C331.37,338.23 333.68,338.38 338.50,338.80 C343.32,339.22 351.30,340.08 357.70,340.80 C364.10,341.52 370.78,342.37 376.90,343.10 C383.02,343.83 391.48,344.85 394.40,345.20" fill="none" stroke="#C9153C" stroke-width="1.45" stroke-linejoin="round" stroke-linecap="butt"/>
<path d="M303.50,351.70 C304.52,351.38 307.78,350.60 309.60,349.80 C311.42,349.00 312.95,348.67 314.40,346.90 C315.85,345.13 317.02,341.43 318.30,339.20 C319.58,336.97 320.35,334.83 322.10,333.50 C323.85,332.17 326.07,331.47 328.80,331.20 C331.53,330.93 333.68,331.05 338.50,331.90 C343.32,332.75 351.30,334.92 357.70,336.30 C364.10,337.68 370.78,339.00 376.90,340.20 C383.02,341.40 391.48,342.95 394.40,343.50" fill="none" stroke="#1D5A93" stroke-width="1.45" stroke-linejoin="round" stroke-linecap="butt"/>
<line x1="304.7" y1="359.4" x2="304.7" y2="363.8" stroke="#222" stroke-width="1.0"/>
<polygon points="303.20,360.10 306.20,360.10 304.70,357.20" fill="#111"/>
<text font-size="7.7" transform="translate(305.0 371.4) scale(1 1.03)" fill="#1c1c1c">1.0</text>
<text font-size="7.7" transform="translate(305.0 381.2) scale(1 1.03)" textLength="56.5" lengthAdjust="spacingAndGlyphs" fill="#1c1c1c">Collagen (μg/mL)</text>
<line x1="408.5" y1="291.5" x2="417.90000000000003" y2="291.5" stroke="#1D5A93" stroke-width="1.6"/>
<line x1="408.5" y1="302.6" x2="417.90000000000003" y2="302.6" stroke="#C9153C" stroke-width="1.6"/>
<text font-size="7.7" transform="translate(419.6 294.0) scale(1 1.03)" fill="#1c1c1c">Ctrl</text>
<text font-size="7.7" transform="translate(419.6 305.1) scale(1 1.03)" fill="#1c1c1c">Hcy</text>
<text font-size="7.4" transform="translate(482.4 312.1) scale(1 1.03)" fill="#1c1c1c">1 min</text>
<line x1="485.4" y1="314.9" x2="496.2" y2="314.9" stroke="#111" stroke-width="1.2"/>
<path d="M409.60,351.10 C410.37,350.98 412.47,350.63 414.20,350.40 C415.93,350.17 418.07,350.00 420.00,349.70 C421.93,349.40 424.25,349.25 425.80,348.60 C427.35,347.95 428.15,347.03 429.30,345.80 C430.45,344.57 431.55,342.47 432.70,341.20 C433.85,339.93 434.85,338.85 436.20,338.20 C437.55,337.55 438.50,337.38 440.80,337.30 C443.10,337.22 445.00,337.25 450.00,337.70 C455.00,338.15 462.40,339.03 470.80,340.00 C479.20,340.97 495.47,342.92 500.40,343.50" fill="none" stroke="#C9153C" stroke-width="1.45" stroke-linejoin="round" stroke-linecap="butt"/>
<path d="M409.60,351.10 C410.37,350.80 412.85,350.18 414.20,349.30 C415.55,348.42 416.73,347.35 417.70,345.80 C418.67,344.25 419.23,342.88 420.00,340.00 C420.77,337.12 421.53,331.57 422.30,328.50 C423.07,325.43 423.63,323.33 424.60,321.60 C425.57,319.87 426.93,318.80 428.10,318.10 C429.27,317.40 430.25,317.40 431.60,317.40 C432.95,317.40 431.58,316.63 436.20,318.10 C440.82,319.57 451.60,323.88 459.30,326.20 C467.00,328.52 475.55,330.35 482.40,332.00 C489.25,333.65 497.40,335.42 500.40,336.10" fill="none" stroke="#1D5A93" stroke-width="1.45" stroke-linejoin="round" stroke-linecap="butt"/>
<line x1="409.1" y1="359.4" x2="409.1" y2="363.8" stroke="#222" stroke-width="1.0"/>
<polygon points="407.60,360.10 410.60,360.10 409.10,357.20" fill="#111"/>
<text font-size="7.7" transform="translate(409.6 371.2) scale(1 1.03)" fill="#1c1c1c">1.5</text>
<text font-size="11" font-weight="bold" transform="translate(7.3 402.9) scale(1 0.93)" textLength="7.6" lengthAdjust="spacingAndGlyphs" style="stroke-width:0.45px" fill="#000">G</text>
<rect x="46.00" y="457.00" width="13.40" height="18.40" fill="#E8A1AC"/>
<line x1="52.7" y1="456.6" x2="52.7" y2="458.2" stroke="#C8102E" stroke-width="0.7"/>
<line x1="50.1" y1="456.6" x2="55.300000000000004" y2="456.6" stroke="#C8102E" stroke-width="0.7"/>
<line x1="50.1" y1="458.2" x2="55.300000000000004" y2="458.2" stroke="#C8102E" stroke-width="0.7"/>
<circle cx="47.75" cy="457.8" r="1.25" fill="#C8102E"/>
<circle cx="50.45" cy="458.5" r="1.25" fill="#C8102E"/>
<circle cx="53.45" cy="458.1" r="1.25" fill="#C8102E"/>
<circle cx="57.35" cy="455.5" r="1.25" fill="#C8102E"/>
<rect x="64.95" y="441.90" width="13.40" height="33.50" fill="#A0BAD0"/>
<line x1="71.65" y1="439.2" x2="71.65" y2="445.3" stroke="#0E3F7F" stroke-width="0.7"/>
<line x1="69.05000000000001" y1="439.2" x2="74.25" y2="439.2" stroke="#0E3F7F" stroke-width="0.7"/>
<line x1="69.05000000000001" y1="445.3" x2="74.25" y2="445.3" stroke="#0E3F7F" stroke-width="0.7"/>
<rect x="66.15" y="438.35" width="2.5" height="2.5" fill="#0E3F7F"/>
<rect x="69.95" y="439.45" width="2.5" height="2.5" fill="#0E3F7F"/>
<rect x="74.25" y="436.85" width="2.5" height="2.5" fill="#0E3F7F"/>
<rect x="70.25" y="449.55" width="2.5" height="2.5" fill="#0E3F7F"/>
<circle cx="71.65" cy="430.8" r="1.0" fill="#222"/>
<rect x="83.90" y="455.80" width="13.40" height="19.60" fill="#B2E2B7"/>
<line x1="90.60000000000001" y1="455.5" x2="90.60000000000001" y2="457" stroke="#2EAA3A" stroke-width="0.7"/>
<line x1="88.00000000000001" y1="455.5" x2="93.2" y2="455.5" stroke="#2EAA3A" stroke-width="0.7"/>
<line x1="88.00000000000001" y1="457" x2="93.2" y2="457" stroke="#2EAA3A" stroke-width="0.7"/>
<polygon points="83.85,458.55 86.95,458.55 85.40,455.75" fill="#2EAA3A"/>
<polygon points="86.65,457.75 89.75,457.75 88.20,454.95" fill="#2EAA3A"/>
<polygon points="89.65,457.75 92.75,457.75 91.20,454.95" fill="#2EAA3A"/>
<polygon points="93.55,455.95 96.65,455.95 95.10,453.15" fill="#2EAA3A"/>
<rect x="102.85" y="426.80" width="13.40" height="48.60" fill="#BEA9C7"/>
<line x1="109.55" y1="422.7" x2="109.55" y2="431.5" stroke="#5A1E78" stroke-width="0.7"/>
<line x1="106.95" y1="422.7" x2="112.14999999999999" y2="422.7" stroke="#5A1E78" stroke-width="0.7"/>
<line x1="106.95" y1="431.5" x2="112.14999999999999" y2="431.5" stroke="#5A1E78" stroke-width="0.7"/>
<polygon points="103.60,421.95 106.70,421.95 105.15,424.75" fill="#5A1E78"/>
<polygon points="107.90,417.95 111.00,417.95 109.45,420.75" fill="#5A1E78"/>
<polygon points="111.70,418.85 114.80,418.85 113.25,421.65" fill="#5A1E78"/>
<polygon points="102.80,426.55 105.90,426.55 104.35,429.35" fill="#5A1E78"/>
<polygon points="107.70,444.05 110.80,444.05 109.25,446.85" fill="#5A1E78"/>
<circle cx="105.95" cy="412.0" r="1.0" fill="#222"/>
<text font-size="6.8" text-anchor="middle" transform="translate(111.85 414.5) scale(1 1.03)" fill="#1c1c1c">#</text>
<line x1="40.2" y1="413.5" x2="40.2" y2="475.9" stroke="#111" stroke-width="1.2"/>
<line x1="37.400000000000006" y1="475.4" x2="40.2" y2="475.4" stroke="#111" stroke-width="1.2"/>
<text font-size="7.9" text-anchor="end" transform="translate(34.2 478.2) scale(1 1.03)" fill="#1c1c1c">0</text>
<line x1="37.400000000000006" y1="463.02" x2="40.2" y2="463.02" stroke="#111" stroke-width="1.2"/>
<text font-size="7.9" text-anchor="end" transform="translate(34.2 465.82) scale(1 1.03)" fill="#1c1c1c">5</text>
<line x1="37.400000000000006" y1="450.64" x2="40.2" y2="450.64" stroke="#111" stroke-width="1.2"/>
<text font-size="7.9" text-anchor="end" transform="translate(34.2 453.44) scale(1 1.03)" fill="#1c1c1c">10</text>
<line x1="37.400000000000006" y1="438.26" x2="40.2" y2="438.26" stroke="#111" stroke-width="1.2"/>
<text font-size="7.9" text-anchor="end" transform="translate(34.2 441.06) scale(1 1.03)" fill="#1c1c1c">15</text>
<line x1="37.400000000000006" y1="425.88" x2="40.2" y2="425.88" stroke="#111" stroke-width="1.2"/>
<text font-size="7.9" text-anchor="end" transform="translate(34.2 428.68) scale(1 1.03)" fill="#1c1c1c">20</text>
<line x1="37.400000000000006" y1="413.5" x2="40.2" y2="413.5" stroke="#111" stroke-width="1.2"/>
<text font-size="7.9" text-anchor="end" transform="translate(34.2 416.3) scale(1 1.03)" fill="#1c1c1c">25</text>
<line x1="37.2" y1="475.4" x2="122.0" y2="475.4" stroke="#111" stroke-width="1.2"/>
<line x1="52.7" y1="475.4" x2="52.7" y2="478.4" stroke="#111" stroke-width="1.2"/>
<line x1="71.65" y1="475.4" x2="71.65" y2="478.4" stroke="#111" stroke-width="1.2"/>
<line x1="90.60000000000001" y1="475.4" x2="90.60000000000001" y2="478.4" stroke="#111" stroke-width="1.2"/>
<line x1="109.55" y1="475.4" x2="109.55" y2="478.4" stroke="#111" stroke-width="1.2"/>
<text font-size="9.0" text-anchor="middle" transform="translate(19.4 444.5) rotate(-90) scale(1 1.03)" textLength="41.0" lengthAdjust="spacingAndGlyphs" style="stroke-width:0.5px" fill="#1c1c1c">P-Selectin MFI</text>
<text font-size="7.7" text-anchor="end" transform="translate(55.5 486.3) rotate(-34) scale(1 1.03)" fill="#1c1c1c">Ctrl</text>
<text font-size="7.7" text-anchor="end" transform="translate(74.45 486.3) rotate(-34) scale(1 1.03)" textLength="30.3" lengthAdjust="spacingAndGlyphs" fill="#1c1c1c">Thrombin</text>
<text font-size="7.7" text-anchor="end" transform="translate(93.4 486.3) rotate(-34) scale(1 1.03)" fill="#1c1c1c">Hcy</text>
<text font-size="7.7" text-anchor="end" transform="translate(112.35 486.3) rotate(-34) scale(1 1.03)" textLength="47.5" lengthAdjust="spacingAndGlyphs" fill="#1c1c1c">Hcy+Thrombin</text>
<text font-size="11" font-weight="bold" transform="translate(141.9 402.9) scale(1 0.93)" style="stroke-width:0.45px" fill="#000">H</text>
<rect x="175.80" y="457.30" width="13.40" height="18.10" fill="#E8A1AC"/>
<line x1="182.5" y1="456.8" x2="182.5" y2="458.2" stroke="#C8102E" stroke-width="0.7"/>
<line x1="179.9" y1="456.8" x2="185.1" y2="456.8" stroke="#C8102E" stroke-width="0.7"/>
<line x1="179.9" y1="458.2" x2="185.1" y2="458.2" stroke="#C8102E" stroke-width="0.7"/>
<circle cx="178.45" cy="454.2" r="1.25" fill="#C8102E"/>
<circle cx="181.15" cy="458.1" r="1.25" fill="#C8102E"/>
<circle cx="183.45" cy="458.1" r="1.25" fill="#C8102E"/>
<circle cx="186.15" cy="457.6" r="1.25" fill="#C8102E"/>
<rect x="194.75" y="441.90" width="13.40" height="33.50" fill="#A0BAD0"/>
<line x1="201.45" y1="440.5" x2="201.45" y2="443.5" stroke="#0E3F7F" stroke-width="0.7"/>
<line x1="198.85" y1="440.5" x2="204.04999999999998" y2="440.5" stroke="#0E3F7F" stroke-width="0.7"/>
<line x1="198.85" y1="443.5" x2="204.04999999999998" y2="443.5" stroke="#0E3F7F" stroke-width="0.7"/>
<rect x="195.30" y="440.35" width="2.5" height="2.5" fill="#0E3F7F"/>
<rect x="198.10" y="441.95" width="2.5" height="2.5" fill="#0E3F7F"/>
<rect x="200.70" y="440.65" width="2.5" height="2.5" fill="#0E3F7F"/>
<rect x="204.50" y="439.45" width="2.5" height="2.5" fill="#0E3F7F"/>
<rect x="198.40" y="443.45" width="2.5" height="2.5" fill="#0E3F7F"/>
<circle cx="201.45" cy="433.5" r="1.0" fill="#222"/>
<rect x="213.70" y="456.50" width="13.40" height="18.90" fill="#B2E2B7"/>
<line x1="220.40000000000003" y1="456" x2="220.40000000000003" y2="457" stroke="#2EAA3A" stroke-width="0.7"/>
<line x1="217.80000000000004" y1="456" x2="223.00000000000003" y2="456" stroke="#2EAA3A" stroke-width="0.7"/>
<line x1="217.80000000000004" y1="457" x2="223.00000000000003" y2="457" stroke="#2EAA3A" stroke-width="0.7"/>
<polygon points="214.85,458.25 217.95,458.25 216.40,455.45" fill="#2EAA3A"/>
<polygon points="217.85,457.75 220.95,457.75 219.40,454.95" fill="#2EAA3A"/>
<polygon points="220.85,457.75 223.95,457.75 222.40,454.95" fill="#2EAA3A"/>
<polygon points="223.85,457.75 226.95,457.75 225.40,454.95" fill="#2EAA3A"/>
<rect x="232.65" y="428.80" width="13.40" height="46.60" fill="#BEA9C7"/>
<line x1="239.35000000000002" y1="427.8" x2="239.35000000000002" y2="430.8" stroke="#5A1E78" stroke-width="0.7"/>
<line x1="236.75000000000003" y1="427.8" x2="241.95000000000002" y2="427.8" stroke="#5A1E78" stroke-width="0.7"/>
<line x1="236.75000000000003" y1="430.8" x2="241.95000000000002" y2="430.8" stroke="#5A1E78" stroke-width="0.7"/>
<polygon points="233.00,424.55 236.10,424.55 234.55,427.35" fill="#5A1E78"/>
<polygon points="236.70,426.85 239.80,426.85 238.25,429.65" fill="#5A1E78"/>
<polygon points="241.30,423.45 244.40,423.45 242.85,426.25" fill="#5A1E78"/>
<polygon points="234.80,432.95 237.90,432.95 236.35,435.75" fill="#5A1E78"/>
<polygon points="238.70,429.15 241.80,429.15 240.25,431.95" fill="#5A1E78"/>
<circle cx="235.75" cy="419.3" r="1.0" fill="#222"/>
<text font-size="6.8" text-anchor="middle" transform="translate(241.65 421.8) scale(1 1.03)" fill="#1c1c1c">#</text>
<line x1="170.0" y1="413.5" x2="170.0" y2="475.9" stroke="#111" stroke-width="1.2"/>
<line x1="167.2" y1="475.4" x2="170.0" y2="475.4" stroke="#111" stroke-width="1.2"/>
<text font-size="7.9" text-anchor="end" transform="translate(164.0 478.2) scale(1 1.03)" fill="#1c1c1c">0</text>
<line x1="167.2" y1="459.92499999999995" x2="170.0" y2="459.92499999999995" stroke="#111" stroke-width="1.2"/>
<text font-size="7.9" text-anchor="end" transform="translate(164.0 462.72) scale(1 1.03)" fill="#1c1c1c">20</text>
<line x1="167.2" y1="444.45" x2="170.0" y2="444.45" stroke="#111" stroke-width="1.2"/>
<text font-size="7.9" text-anchor="end" transform="translate(164.0 447.25) scale(1 1.03)" fill="#1c1c1c">40</text>
<line x1="167.2" y1="428.975" x2="170.0" y2="428.975" stroke="#111" stroke-width="1.2"/>
<text font-size="7.9" text-anchor="end" transform="translate(164.0 431.78) scale(1 1.03)" fill="#1c1c1c">60</text>
<line x1="167.2" y1="413.5" x2="170.0" y2="413.5" stroke="#111" stroke-width="1.2"/>
<text font-size="7.9" text-anchor="end" transform="translate(164.0 416.3) scale(1 1.03)" fill="#1c1c1c">80</text>
<line x1="167.0" y1="475.4" x2="251.8" y2="475.4" stroke="#111" stroke-width="1.2"/>
<line x1="182.5" y1="475.4" x2="182.5" y2="478.4" stroke="#111" stroke-width="1.2"/>
<line x1="201.45" y1="475.4" x2="201.45" y2="478.4" stroke="#111" stroke-width="1.2"/>
<line x1="220.40000000000003" y1="475.4" x2="220.40000000000003" y2="478.4" stroke="#111" stroke-width="1.2"/>
<line x1="239.35000000000002" y1="475.4" x2="239.35000000000002" y2="478.4" stroke="#111" stroke-width="1.2"/>
<text font-size="9.0" text-anchor="middle" transform="translate(149.2 444.5) rotate(-90) scale(1 1.03)" textLength="41.0" lengthAdjust="spacingAndGlyphs" style="stroke-width:0.5px" fill="#1c1c1c">P-Selectin MFI</text>
<text font-size="7.7" text-anchor="end" transform="translate(185.3 486.3) rotate(-34) scale(1 1.03)" fill="#1c1c1c">Ctrl</text>
<text font-size="7.7" text-anchor="end" transform="translate(204.25 486.3) rotate(-34) scale(1 1.03)" textLength="29.0" lengthAdjust="spacingAndGlyphs" fill="#1c1c1c">Collagen</text>
<text font-size="7.7" text-anchor="end" transform="translate(223.2 486.3) rotate(-34) scale(1 1.03)" fill="#1c1c1c">Hcy</text>
<text font-size="7.7" text-anchor="end" transform="translate(242.15 486.3) rotate(-34) scale(1 1.03)" textLength="45.5" lengthAdjust="spacingAndGlyphs" fill="#1c1c1c">Hcy+Collagen</text>
<text font-size="11" font-weight="bold" transform="translate(269.2 402.9) scale(1 0.93)" style="stroke-width:0.45px" fill="#000">I</text>
<rect x="307.00" y="472.70" width="13.40" height="2.70" fill="#E8A1AC"/>
<line x1="313.7" y1="471.8" x2="313.7" y2="474.8" stroke="#C8102E" stroke-width="0.7"/>
<line x1="311.09999999999997" y1="471.8" x2="316.3" y2="471.8" stroke="#C8102E" stroke-width="0.7"/>
<line x1="311.09999999999997" y1="474.8" x2="316.3" y2="474.8" stroke="#C8102E" stroke-width="0.7"/>
<circle cx="309.2" cy="472.8" r="1.25" fill="#C8102E"/>
<circle cx="312.2" cy="472.2" r="1.25" fill="#C8102E"/>
<circle cx="315.2" cy="473" r="1.25" fill="#C8102E"/>
<circle cx="318.2" cy="472.5" r="1.25" fill="#C8102E"/>
<rect x="325.95" y="442.70" width="13.40" height="32.70" fill="#A0BAD0"/>
<line x1="332.65" y1="441" x2="332.65" y2="445" stroke="#0E3F7F" stroke-width="0.7"/>
<line x1="330.04999999999995" y1="441" x2="335.25" y2="441" stroke="#0E3F7F" stroke-width="0.7"/>
<line x1="330.04999999999995" y1="445" x2="335.25" y2="445" stroke="#0E3F7F" stroke-width="0.7"/>
<rect x="327.25" y="439.45" width="2.5" height="2.5" fill="#0E3F7F"/>
<rect x="329.95" y="440.65" width="2.5" height="2.5" fill="#0E3F7F"/>
<rect x="331.55" y="444.05" width="2.5" height="2.5" fill="#0E3F7F"/>
<rect x="333.35" y="441.45" width="2.5" height="2.5" fill="#0E3F7F"/>
<rect x="335.85" y="441.95" width="2.5" height="2.5" fill="#0E3F7F"/>
<circle cx="332.65" cy="433.5" r="1.0" fill="#222"/>
<rect x="344.90" y="472.70" width="13.40" height="2.70" fill="#B2E2B7"/>
<line x1="351.59999999999997" y1="472" x2="351.59999999999997" y2="473.5" stroke="#2EAA3A" stroke-width="0.7"/>
<line x1="348.99999999999994" y1="472" x2="354.2" y2="472" stroke="#2EAA3A" stroke-width="0.7"/>
<line x1="348.99999999999994" y1="473.5" x2="354.2" y2="473.5" stroke="#2EAA3A" stroke-width="0.7"/>
<polygon points="346.05,474.25 349.15,474.25 347.60,471.45" fill="#2EAA3A"/>
<polygon points="349.05,473.75 352.15,473.75 350.60,470.95" fill="#2EAA3A"/>
<polygon points="352.05,473.75 355.15,473.75 353.60,470.95" fill="#2EAA3A"/>
<polygon points="355.05,474.25 358.15,474.25 356.60,471.45" fill="#2EAA3A"/>
<rect x="363.85" y="425.80" width="13.40" height="49.60" fill="#BEA9C7"/>
<line x1="370.55" y1="424.5" x2="370.55" y2="427" stroke="#5A1E78" stroke-width="0.7"/>
<line x1="367.95" y1="424.5" x2="373.15000000000003" y2="424.5" stroke="#5A1E78" stroke-width="0.7"/>
<line x1="367.95" y1="427" x2="373.15000000000003" y2="427" stroke="#5A1E78" stroke-width="0.7"/>
<polygon points="365.00,423.75 368.10,423.75 366.55,426.55" fill="#5A1E78"/>
<polygon points="368.00,425.25 371.10,425.25 369.55,428.05" fill="#5A1E78"/>
<polygon points="371.00,424.75 374.10,424.75 372.55,427.55" fill="#5A1E78"/>
<polygon points="374.00,423.75 377.10,423.75 375.55,426.55" fill="#5A1E78"/>
<circle cx="366.95" cy="415.9" r="1.0" fill="#222"/>
<text font-size="6.8" text-anchor="middle" transform="translate(372.85 418.4) scale(1 1.03)" fill="#1c1c1c">#</text>
<line x1="301.2" y1="413.5" x2="301.2" y2="475.9" stroke="#111" stroke-width="1.2"/>
<line x1="298.4" y1="475.4" x2="301.2" y2="475.4" stroke="#111" stroke-width="1.2"/>
<text font-size="7.9" text-anchor="end" transform="translate(295.2 478.2) scale(1 1.03)" fill="#1c1c1c">0</text>
<line x1="298.4" y1="454.76666666666665" x2="301.2" y2="454.76666666666665" stroke="#111" stroke-width="1.2"/>
<text font-size="7.9" text-anchor="end" transform="translate(295.2 457.57) scale(1 1.03)" fill="#1c1c1c">100</text>
<line x1="298.4" y1="434.1333333333333" x2="301.2" y2="434.1333333333333" stroke="#111" stroke-width="1.2"/>
<text font-size="7.9" text-anchor="end" transform="translate(295.2 436.93) scale(1 1.03)" fill="#1c1c1c">200</text>
<line x1="298.4" y1="413.5" x2="301.2" y2="413.5" stroke="#111" stroke-width="1.2"/>
<text font-size="7.9" text-anchor="end" transform="translate(295.2 416.3) scale(1 1.03)" fill="#1c1c1c">300</text>
<line x1="298.2" y1="475.4" x2="383.0" y2="475.4" stroke="#111" stroke-width="1.2"/>
<line x1="313.7" y1="475.4" x2="313.7" y2="478.4" stroke="#111" stroke-width="1.2"/>
<line x1="332.65" y1="475.4" x2="332.65" y2="478.4" stroke="#111" stroke-width="1.2"/>
<line x1="351.59999999999997" y1="475.4" x2="351.59999999999997" y2="478.4" stroke="#111" stroke-width="1.2"/>
<line x1="370.55" y1="475.4" x2="370.55" y2="478.4" stroke="#111" stroke-width="1.2"/>
<text font-size="9.0" text-anchor="middle" transform="translate(275.2 444.5) rotate(-90) scale(1 1.03)" textLength="39.5" lengthAdjust="spacingAndGlyphs" style="stroke-width:0.5px" fill="#1c1c1c">TXB2 (pg/mL)</text>
<text font-size="7.7" text-anchor="end" transform="translate(316.5 486.3) rotate(-34) scale(1 1.03)" fill="#1c1c1c">Ctrl</text>
<text font-size="7.7" text-anchor="end" transform="translate(335.45 486.3) rotate(-34) scale(1 1.03)" textLength="30.3" lengthAdjust="spacingAndGlyphs" fill="#1c1c1c">Thrombin</text>
<text font-size="7.7" text-anchor="end" transform="translate(354.4 486.3) rotate(-34) scale(1 1.03)" fill="#1c1c1c">Hcy</text>
<text font-size="7.7" text-anchor="end" transform="translate(373.35 486.3) rotate(-34) scale(1 1.03)" textLength="47.5" lengthAdjust="spacingAndGlyphs" fill="#1c1c1c">Hcy+Thrombin</text>
<text font-size="11" font-weight="bold" transform="translate(396.8 402.9) scale(1 0.93)" style="stroke-width:0.45px" fill="#000">J</text>
<rect x="436.90" y="469.70" width="13.40" height="5.70" fill="#E8A1AC"/>
<line x1="443.6" y1="469" x2="443.6" y2="471" stroke="#C8102E" stroke-width="0.7"/>
<line x1="441.0" y1="469" x2="446.20000000000005" y2="469" stroke="#C8102E" stroke-width="0.7"/>
<line x1="441.0" y1="471" x2="446.20000000000005" y2="471" stroke="#C8102E" stroke-width="0.7"/>
<circle cx="439.6" cy="469.6" r="1.25" fill="#C8102E"/>
<circle cx="443.6" cy="472.5" r="1.25" fill="#C8102E"/>
<circle cx="447.6" cy="469.6" r="1.25" fill="#C8102E"/>
<rect x="455.85" y="451.90" width="13.40" height="23.50" fill="#A0BAD0"/>
<line x1="462.55" y1="448.5" x2="462.55" y2="455" stroke="#0E3F7F" stroke-width="0.7"/>
<line x1="459.95" y1="448.5" x2="465.15000000000003" y2="448.5" stroke="#0E3F7F" stroke-width="0.7"/>
<line x1="459.95" y1="455" x2="465.15000000000003" y2="455" stroke="#0E3F7F" stroke-width="0.7"/>
<rect x="457.90" y="449.15" width="2.5" height="2.5" fill="#0E3F7F"/>
<rect x="461.70" y="447.95" width="2.5" height="2.5" fill="#0E3F7F"/>
<rect x="464.30" y="451.65" width="2.5" height="2.5" fill="#0E3F7F"/>
<rect x="460.50" y="453.45" width="2.5" height="2.5" fill="#0E3F7F"/>
<circle cx="462.55" cy="440.5" r="1.0" fill="#222"/>
<rect x="474.80" y="469.00" width="13.40" height="6.40" fill="#B2E2B7"/>
<line x1="481.5" y1="468" x2="481.5" y2="471" stroke="#2EAA3A" stroke-width="0.7"/>
<line x1="478.9" y1="468" x2="484.1" y2="468" stroke="#2EAA3A" stroke-width="0.7"/>
<line x1="478.9" y1="471" x2="484.1" y2="471" stroke="#2EAA3A" stroke-width="0.7"/>
<polygon points="475.95,470.75 479.05,470.75 477.50,467.95" fill="#2EAA3A"/>
<polygon points="479.95,469.75 483.05,469.75 481.50,466.95" fill="#2EAA3A"/>
<polygon points="482.95,470.25 486.05,470.25 484.50,467.45" fill="#2EAA3A"/>
<polygon points="479.95,473.25 483.05,473.25 481.50,470.45" fill="#2EAA3A"/>
<rect x="493.75" y="436.20" width="13.40" height="39.20" fill="#BEA9C7"/>
<line x1="500.45" y1="433" x2="500.45" y2="440" stroke="#5A1E78" stroke-width="0.7"/>
<line x1="497.84999999999997" y1="433" x2="503.05" y2="433" stroke="#5A1E78" stroke-width="0.7"/>
<line x1="497.84999999999997" y1="440" x2="503.05" y2="440" stroke="#5A1E78" stroke-width="0.7"/>
<polygon points="498.90,426.75 502.00,426.75 500.45,429.55" fill="#5A1E78"/>
<polygon points="495.90,434.75 499.00,434.75 497.45,437.55" fill="#5A1E78"/>
<polygon points="501.90,435.75 505.00,435.75 503.45,438.55" fill="#5A1E78"/>
<polygon points="498.90,440.75 502.00,440.75 500.45,443.55" fill="#5A1E78"/>
<circle cx="496.85" cy="421.0" r="1.0" fill="#222"/>
<text font-size="6.8" text-anchor="middle" transform="translate(502.75 423.5) scale(1 1.03)" fill="#1c1c1c">#</text>
<line x1="431.1" y1="413.5" x2="431.1" y2="475.9" stroke="#111" stroke-width="1.2"/>
<line x1="428.3" y1="475.4" x2="431.1" y2="475.4" stroke="#111" stroke-width="1.2"/>
<text font-size="7.9" text-anchor="end" transform="translate(425.1 478.2) scale(1 1.03)" fill="#1c1c1c">0</text>
<line x1="428.3" y1="459.92499999999995" x2="431.1" y2="459.92499999999995" stroke="#111" stroke-width="1.2"/>
<text font-size="7.9" text-anchor="end" transform="translate(425.1 462.72) scale(1 1.03)" fill="#1c1c1c">100</text>
<line x1="428.3" y1="444.45" x2="431.1" y2="444.45" stroke="#111" stroke-width="1.2"/>
<text font-size="7.9" text-anchor="end" transform="translate(425.1 447.25) scale(1 1.03)" fill="#1c1c1c">200</text>
<line x1="428.3" y1="428.975" x2="431.1" y2="428.975" stroke="#111" stroke-width="1.2"/>
<text font-size="7.9" text-anchor="end" transform="translate(425.1 431.78) scale(1 1.03)" fill="#1c1c1c">300</text>
<line x1="428.3" y1="413.5" x2="431.1" y2="413.5" stroke="#111" stroke-width="1.2"/>
<text font-size="7.9" text-anchor="end" transform="translate(425.1 416.3) scale(1 1.03)" fill="#1c1c1c">400</text>
<line x1="428.1" y1="475.4" x2="512.7" y2="475.4" stroke="#111" stroke-width="1.2"/>
<line x1="443.6" y1="475.4" x2="443.6" y2="478.4" stroke="#111" stroke-width="1.2"/>
<line x1="462.55" y1="475.4" x2="462.55" y2="478.4" stroke="#111" stroke-width="1.2"/>
<line x1="481.5" y1="475.4" x2="481.5" y2="478.4" stroke="#111" stroke-width="1.2"/>
<line x1="500.45" y1="475.4" x2="500.45" y2="478.4" stroke="#111" stroke-width="1.2"/>
<text font-size="9.0" text-anchor="middle" transform="translate(405.1 444.5) rotate(-90) scale(1 1.03)" textLength="39.5" lengthAdjust="spacingAndGlyphs" style="stroke-width:0.5px" fill="#1c1c1c">TXB2 (pg/mL)</text>
<text font-size="7.7" text-anchor="end" transform="translate(446.4 486.3) rotate(-34) scale(1 1.03)" fill="#1c1c1c">Ctrl</text>
<text font-size="7.7" text-anchor="end" transform="translate(465.35 486.3) rotate(-34) scale(1 1.03)" textLength="29.0" lengthAdjust="spacingAndGlyphs" fill="#1c1c1c">Collagen</text>
<text font-size="7.7" text-anchor="end" transform="translate(484.3 486.3) rotate(-34) scale(1 1.03)" fill="#1c1c1c">Hcy</text>
<text font-size="7.7" text-anchor="end" transform="translate(503.25 486.3) rotate(-34) scale(1 1.03)" textLength="45.5" lengthAdjust="spacingAndGlyphs" fill="#1c1c1c">Hcy+Collagen</text>
</svg>
</body></html>
